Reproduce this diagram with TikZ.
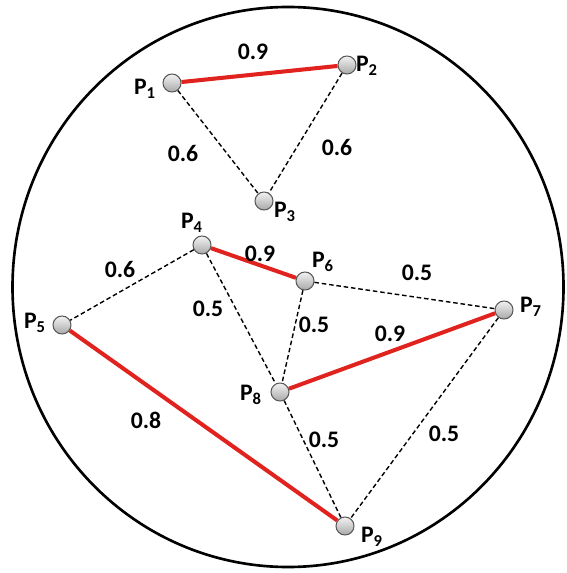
\documentclass[tikz,border=0pt]{standalone}
\usepackage{fontspec}
\setmainfont{Carlito}
\usetikzlibrary{positioning}
\definecolor{edgeRed}{HTML}{E0231E}
\definecolor{nodeRim}{HTML}{5A5A5A}
\definecolor{nodeTop}{HTML}{F2F2F2}
\definecolor{nodeBottom}{HTML}{A9A9A9}

\begin{document}
\begin{tikzpicture}[x=0.02cm, y=-0.02cm,
	pt/.style={circle, draw=nodeRim, line width=0.6pt, inner sep=0pt,
		minimum size=0.36cm, top color=nodeTop, bottom color=nodeBottom},
	ptname/.style={font=\fontsize{13.5}{15}\selectfont\bfseries, inner sep=1pt},
	weight/.style={font=\fontsize{13.5}{15}\selectfont\bfseries, inner sep=1pt},
	strong/.style={draw=edgeRed, line width=2.3pt},
	weak/.style={draw=black, line width=0.8pt, dash pattern=on 2.6pt off 1.6pt}]
	\useasboundingbox (0,0) rectangle (566,573);
	\draw[line width=1.5pt] (288,287) ellipse [x radius=275.5, y radius=280];

	% points
	\node[pt] (p1) at (172,83) {};
	\node[pt] (p2) at (347,65) {};
	\node[pt] (p3) at (264,201) {};
	\node[pt] (p4) at (202,245) {};
	\node[pt] (p5) at (62,325) {};
	\node[pt] (p6) at (305,281) {};
	\node[pt] (p7) at (504,310) {};
	\node[pt] (p8) at (280,392) {};
	\node[pt] (p9) at (345,526) {};

	% point names
	\node[ptname] (n1) at (145,89) {P\textsubscript{1}};
	\node[ptname] (n2) at (367,66) {P\textsubscript{2}};
	\node[ptname] (n3) at (285,212) {P\textsubscript{3}};
	\node[ptname] (n4) at (192,223) {P\textsubscript{4}};
	\node[ptname] (n5) at (35,323) {P\textsubscript{5}};
	\node[ptname] (n6) at (323,262) {P\textsubscript{6}};
	\node[ptname] (n7) at (531,307) {P\textsubscript{7}};
	\node[ptname] (n8) at (251,395) {P\textsubscript{8}};
	\node[ptname] (n9) at (372,537) {P\textsubscript{9}};

	% connections
	\draw[strong] (p1) -- (p2);
	\draw[weak] (p1) -- (p3);
	\draw[weak] (p2) -- (p3);
	\draw[weak] (p4) -- (p5);
	\draw[strong] (p4) -- (p6);
	\draw[weak] (p4) -- (p8);
	\draw[weak] (p6) -- (p7);
	\draw[weak] (p6) -- (p8);
	\draw[strong] (p8) -- (p7);
	\draw[strong] (p5) -- (p9);
	\draw[weak] (p8) -- (p9);
	\draw[weak] (p7) -- (p9);

	% weights
	\node[weight] (w12) at (253,52) {0.9};
	\node[weight] (w13) at (183,153) {0.6};
	\node[weight] (w23) at (337,147) {0.6};
	\node[weight] (w45) at (120,269) {0.6};
	\node[weight] (w46) at (260,254) {0.9};
	\node[weight] (w48) at (208,309) {0.5};
	\node[weight] (w67) at (417,273) {0.5};
	\node[weight] (w68) at (314,325) {0.5};
	\node[weight] (w78) at (390,334) {0.9};
	\node[weight] (w59) at (146,420) {0.8};
	\node[weight] (w89) at (324,440) {0.5};
	\node[weight] (w79) at (444,434) {0.5};
\end{tikzpicture}
\end{document}
